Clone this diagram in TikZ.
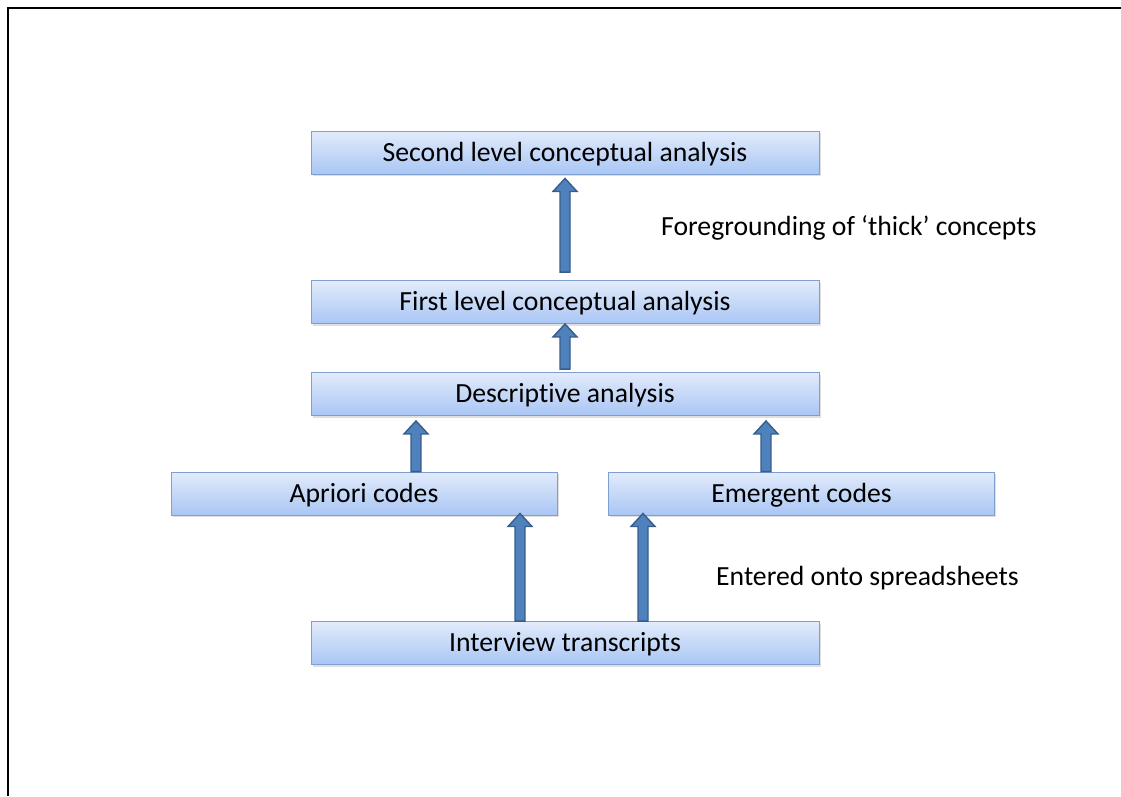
\documentclass[tikz,border=0pt]{standalone}
\usepackage{fontspec}
\setmainfont{Carlito}[RawFeature={-liga}]
\usetikzlibrary{shadows,calc}
\definecolor{boxtop}{HTML}{E2EBFB}
\definecolor{boxbot}{HTML}{A9C6F4}
\definecolor{boxline}{HTML}{7FA0CF}
\definecolor{arrowfill}{HTML}{4F81BD}
\definecolor{arrowline}{HTML}{385D8A}
\tikzset{
  % text box whose centre sits at the middle of the capitals (cap height 17.8pt)
  captext/.style={font=\fontsize{27.7}{32}\selectfont, text height=24.9pt, text depth=7.1pt},
  stage/.style={captext, draw=boxline, line width=0.9pt, top color=boxtop, bottom color=boxbot,
    minimum height=43, inner sep=0pt,
    drop shadow={opacity=0.25, shadow xshift=1.5pt, shadow yshift=-2pt}},
  wide/.style={stage, minimum width=508},
  narrow/.style={stage, minimum width=386},
  note/.style={captext, anchor=west, inner sep=0pt},
  blockarrow/.style={fill=arrowfill, draw=arrowline, line width=1.4pt, line join=miter},
  frame/.style={line width=2.4pt}
}
% upward block arrow at x = #1, from point #2 (bottom) to point #3 (tip)
\newcommand\blockup[3]{%
  \path[blockarrow] let \p1=(#2), \p2=(#3) in
    (#1-5, \y1) -- (#1-5, \y2-13) -- (#1-12, \y2-13) -- (#1, \y2)
    -- (#1+12, \y2-13) -- (#1+5, \y2-13) -- (#1+5, \y1) -- cycle;}
\begin{document}
\begin{tikzpicture}[x=1pt, y=-1pt]
  \useasboundingbox (0,0) rectangle (1121,796);
  \draw[frame] (8,796) -- (8,8) -- (1121,8);

  \node[wide]   (second)    at (565,152.5) {Second level conceptual analysis};
  \node[wide]   (first)     at (565,302)   {First level conceptual analysis};
  \node[wide]   (desc)      at (565,394)   {Descriptive analysis};
  \node[narrow] (apriori)   at (364,493.5) {Apriori codes};
  \node[narrow] (emergent)  at (801.5,493.5) {Emergent codes};
  \node[wide]   (interview) at (565,643)   {Interview transcripts};

  \node[note] (thick)  at (661,227) {Foregrounding of ‘thick’ concepts};
  \node[note] (sheets) at (716,577) {Entered onto spreadsheets};

  \coordinate (a1) at ($(first.north)+(0,-8)$);
  \coordinate (a1t) at ($(second.south)+(0,4)$);
  \blockup{565}{a1}{a1t}
  \coordinate (a2) at ($(desc.north)+(0,-3)$);
  \blockup{565}{a2}{first.south}
  \coordinate (a3t) at ($(desc.south)+(0,5)$);
  \blockup{416}{apriori.north}{a3t}
  \blockup{766}{emergent.north}{a3t}
  \coordinate (a5t) at ($(apriori.south)+(0,-2)$);
  \blockup{520}{interview.north}{a5t}
  \blockup{643}{interview.north}{a5t}
\end{tikzpicture}
\end{document}
